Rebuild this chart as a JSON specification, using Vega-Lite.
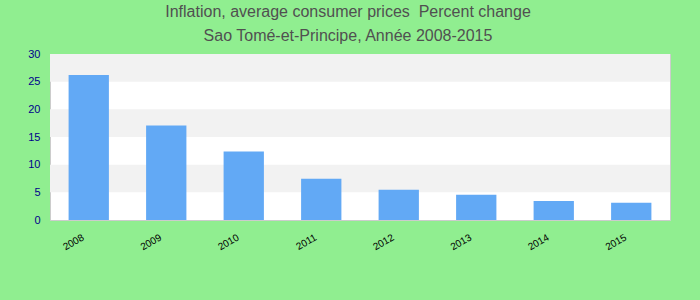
{
  "$schema": "https://vega.github.io/schema/vega-lite/v6.json",
  "width": 620,
  "height": 166,
  "autosize": {"type": "none"},
  "padding": {"left": 50, "top": 54, "right": 30, "bottom": 80},
  "background": "#90EE90",
  "title": {
    "text": ["Inflation, average consumer prices \u00a0Percent change", "Sao Tomé-et-Principe, Année 2008-2015"],
    "fontSize": 16,
    "fontWeight": "normal",
    "font": "Liberation Sans",
    "color": "#505050",
    "lineHeight": 24,
    "offset": 4,
    "dx": -12,
    "anchor": "middle"
  },
  "config": {
    "view": {"fill": "white", "stroke": "#cccccc", "strokeWidth": 1},
    "font": "Liberation Sans",
    "axisY": {"title": null, "values": [0, 5, 10, 15, 20, 25, 30], "labelOverlap": false, "grid": false, "ticks": false, "domain": false, "labelColor": "#00008B", "labelFontSize": 11, "labelPadding": 10}
  },
  "resolve": {"axis": {"y": "shared"}},
  "layer": [
    {
      "data": {"values": [
        {"lo": 5, "hi": 10},
        {"lo": 15, "hi": 20},
        {"lo": 25, "hi": 30}
      ]},
      "mark": {"type": "rect", "color": "#F2F2F2"},
      "encoding": {
        "y": {
          "field": "lo", "type": "quantitative",
          "scale": {"domain": [0, 30], "nice": false}
        },
        "y2": {"field": "hi"}
      }
    },
    {
      "data": {"values": [
        {"year": "2008", "value": 26.2},
        {"year": "2009", "value": 17.1},
        {"year": "2010", "value": 12.4},
        {"year": "2011", "value": 7.45},
        {"year": "2012", "value": 5.45},
        {"year": "2013", "value": 4.55},
        {"year": "2014", "value": 3.45},
        {"year": "2015", "value": 3.1}
      ]},
      "mark": {"type": "bar", "color": "#62A9F5"},
      "encoding": {
        "x": {
          "field": "year", "type": "nominal",
          "scale": {"paddingInner": 0.48, "paddingOuter": 0.24},
          "axis": {"title": null, "labelAngle": -30, "labelFontSize": 10, "labelColor": "#000000", "ticks": false, "domain": false, "labelPadding": 12, "labelOffset": -8}
        },
        "y": {
          "field": "value", "type": "quantitative",
          "scale": {"domain": [0, 30], "nice": false}
        }
      }
    }
  ]
}
